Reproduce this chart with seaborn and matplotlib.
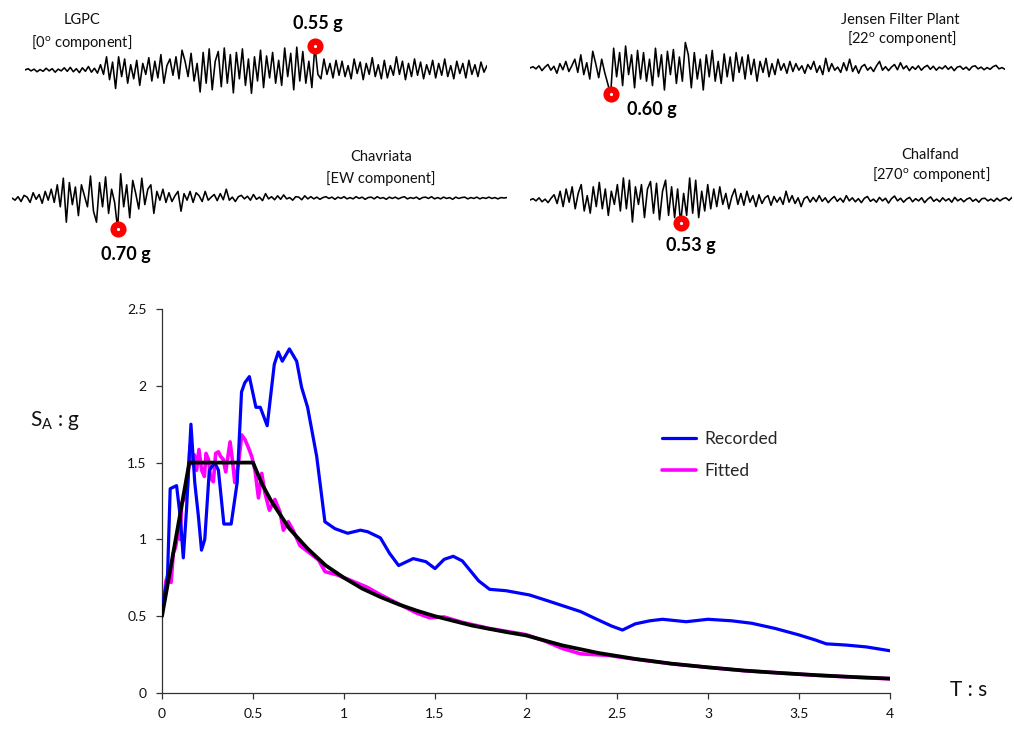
import numpy as np
import pandas as pd
import matplotlib
matplotlib.use("Agg")
import matplotlib.pyplot as plt
import seaborn as sns
from matplotlib.lines import Line2D
from matplotlib.ticker import FormatStrFormatter

# ---------------- data: response spectra ----------------
rec_T = [0.0, 0.03, 0.045, 0.08, 0.10, 0.117, 0.135, 0.159, 0.18, 0.20, 0.217, 0.235, 0.26, 0.29, 0.31,
         0.34, 0.38, 0.413, 0.437, 0.455, 0.48, 0.516, 0.54, 0.578, 0.617, 0.639, 0.661, 0.70, 0.74,
         0.767, 0.80, 0.85, 0.895, 0.95, 1.02, 1.09, 1.13, 1.20, 1.25, 1.30, 1.38, 1.45, 1.50, 1.55,
         1.60, 1.65, 1.74, 1.80, 1.89, 2.02, 2.12, 2.30, 2.38, 2.47, 2.53, 2.60, 2.68, 2.75, 2.88,
         3.00, 3.13, 3.24, 3.37, 3.50, 3.59, 3.65, 3.76, 3.87, 4.00]
rec_SA = [0.55, 0.75, 1.33, 1.35, 1.15, 0.88, 1.20, 1.75, 1.37, 1.15, 0.93, 1.00, 1.45, 1.50, 1.45,
          1.10, 1.10, 1.37, 1.96, 2.02, 2.06, 1.86, 1.86, 1.74, 2.14, 2.22, 2.16, 2.24, 2.16,
          1.99, 1.86, 1.54, 1.115, 1.07, 1.04, 1.06, 1.05, 1.01, 0.91, 0.83, 0.875, 0.855, 0.81, 0.87,
          0.89, 0.86, 0.73, 0.675, 0.666, 0.638, 0.60, 0.53, 0.485, 0.436, 0.41, 0.45, 0.47, 0.48, 0.464,
          0.48, 0.47, 0.454, 0.42, 0.378, 0.345, 0.32, 0.312, 0.30, 0.275]

fit_T = [0.0, 0.01, 0.022, 0.035, 0.05, 0.062, 0.075, 0.09, 0.10, 0.108, 0.126, 0.139, 0.154, 0.167,
         0.178, 0.19, 0.203, 0.218, 0.233, 0.242, 0.255, 0.267, 0.282, 0.295, 0.31, 0.322, 0.337,
         0.35, 0.374, 0.388, 0.40, 0.42, 0.438, 0.456, 0.474, 0.493, 0.511, 0.53, 0.548, 0.566, 0.59,
         0.62, 0.648, 0.667, 0.694, 0.72, 0.758, 0.813, 0.86, 0.896, 0.96, 1.033, 1.125, 1.2, 1.3, 1.4,
         1.47, 1.55, 1.65, 1.8, 2.0, 2.1, 2.2, 2.3, 2.45, 2.6, 2.8, 3.0, 3.2, 3.4, 3.6, 3.8, 4.0]
fit_SA = [0.55, 0.60, 0.73, 0.78, 0.72, 0.91, 0.95, 1.06, 1.00, 1.235, 1.27, 1.34, 1.61, 1.49,
          1.55, 1.45, 1.585, 1.45, 1.41, 1.56, 1.52, 1.40, 1.375, 1.56, 1.57, 1.54, 1.52,
          1.44, 1.635, 1.505, 1.37, 1.49, 1.68, 1.65, 1.60, 1.54, 1.45, 1.27, 1.43, 1.30, 1.19,
          1.26, 1.18, 1.06, 1.115, 1.06, 0.96, 0.91, 0.866, 0.79, 0.77, 0.735, 0.69, 0.64, 0.58, 0.52,
          0.49, 0.495, 0.46, 0.42, 0.38, 0.34, 0.29, 0.255, 0.245, 0.22, 0.19, 0.167, 0.145, 0.13, 0.115, 0.103, 0.092]

des_T = [0.0, 0.15, 0.5, 0.55, 0.6, 0.7, 0.8, 0.9, 1.0, 1.1, 1.2, 1.3, 1.4, 1.5, 1.6, 1.7, 1.8, 1.9,
         2.0, 2.2, 2.4, 2.6, 2.8, 3.0, 3.2, 3.4, 3.6, 3.8, 4.0]
des_SA = [0.5, 1.5, 1.5, 1.36, 1.25, 1.07, 0.94, 0.83, 0.75, 0.68, 0.625, 0.577, 0.536, 0.50, 0.47,
          0.44, 0.417, 0.395, 0.375, 0.31, 0.26, 0.222, 0.191, 0.167, 0.146, 0.130, 0.116, 0.104, 0.094]

x_ticks = [0, 0.5, 1, 1.5, 2, 2.5, 3, 3.5, 4]
y_ticks = [0, 0.5, 1, 1.5, 2, 2.5]
legend_labels = ["Recorded", "Fitted"]

# ---------------- data: accelerograms (g) ----------------
lgpc = [0.00, 0.03, -0.02, 0.02, -0.04, 0.01, -0.03, 0.04, -0.02, 0.03, -0.05, 0.02, -0.02, 0.05, -0.03,
        0.06, -0.04, 0.03, -0.06, 0.05, -0.03, 0.08, -0.05, 0.04, -0.07,
        0.12, -0.10, 0.30, -0.22, 0.18, -0.42, 0.30, -0.15, 0.25, -0.30, 0.12, -0.20, 0.22, -0.35, 0.15,
        -0.10, 0.28, -0.25, 0.20, -0.18, 0.35, -0.30, 0.10, 0.25, -0.12, 0.30, -0.20, 0.45, 0.20, -0.15,
        0.38, -0.25,
        0.15, -0.50, 0.40, -0.30, 0.48, -0.45, 0.20, 0.42, -0.38, 0.50, -0.30, 0.35, -0.52, 0.40, -0.20,
        0.48, -0.35, 0.25, -0.53, 0.30, -0.25, 0.45, -0.40, 0.32, -0.18, 0.40, -0.30, 0.22, -0.35, 0.50,
        -0.15, 0.38, -0.45, 0.52, -0.25, 0.42, -0.30, 0.20, -0.40, 0.55, -0.10,
        -0.20, 0.25, -0.10, 0.15, -0.18, 0.22, -0.12, 0.20, -0.15, 0.10, -0.20, 0.25, -0.08, 0.18, -0.22,
        0.15, -0.10, 0.28, -0.15, 0.12, -0.20, 0.22, -0.18, 0.10, -0.12, 0.30, -0.10, 0.20, -0.22, 0.15,
        -0.15, 0.25, -0.12, 0.18, -0.20, 0.12, -0.10, 0.22, -0.18, 0.15, -0.12, 0.25, -0.15, 0.10, -0.20,
        0.20, -0.08, 0.15, -0.18, 0.22, -0.10, 0.12, -0.15, 0.18, -0.05, 0.10]

jensen = [0.0, 0.03, -0.02, 0.05, -0.06, 0.02, 0.08, -0.05, 0.04, -0.12, 0.1, -0.04, 0.15, -0.08, 0.05,
          0.2, -0.1, 0.3, -0.15,
          0.12, -0.25, 0.38, 0.1, -0.22, 0.2, -0.1, -0.35,
          -0.60,
          0.45, -0.2, 0.35, -0.4, 0.5, -0.15, 0.3, -0.45, 0.4, -0.25, 0.35, -0.3, 0.2, -0.4, 0.45, -0.2,
          0.3, -0.5, 0.38, -0.15, 0.42, -0.35, 0.25, -0.3, 0.58, 0.3, -0.45, 0.35, -0.25, 0.2, -0.5, 0.3,
          -0.2, 0.4, -0.3, 0.15, -0.35, 0.32, -0.2, 0.25,
          -0.3, 0.35, -0.1, 0.25, -0.25, 0.3, -0.15, 0.2, -0.3, 0.15, -0.1, 0.22, -0.2, 0.1, -0.15, 0.2,
          -0.05, 0.1, -0.12, 0.15,
          -0.08, 0.1, -0.05, 0.05, -0.12, 0.08, -0.03, 0.15, -0.1, 0.05, -0.15, 0.22, -0.08, 0.1, -0.05,
          0.02, -0.1, 0.12, -0.06, 0.2, -0.08, 0.05, -0.12, 0.03, 0.08, -0.05, 0.02, -0.08, 0.05,
          0.15, -0.05, 0.03, -0.06, 0.02, 0.08, -0.04, 0.12, -0.02, 0.05, -0.06, 0.03, -0.03, 0.05, -0.05,
          0.02, 0.06, -0.03, 0.04, -0.05, 0.02, -0.02, 0.05, -0.03, 0.03, -0.06, 0.02, 0.04, -0.03, 0.02,
          -0.05, 0.03, 0.05, -0.02, 0.02, -0.04, 0.01, -0.03, 0.03, 0.06, -0.02, 0.01, -0.03]

chavriata = [0.0, -0.05, 0.03, -0.08, 0.06, 0.02, -0.1, 0.12, -0.03, 0.08, -0.12, 0.15, -0.05, 0.2,
             -0.1, 0.3, -0.2, 0.45, -0.55, 0.35, -0.15, 0.25, -0.4, 0.3, 0.05, -0.2, 0.5, -0.3, -0.55,
             0.35, -0.2, 0.48, -0.35, 0.2, -0.1,
             -0.70,
             0.55, -0.2, 0.3, -0.45, 0.4, 0.1, -0.25, 0.45, -0.15, 0.2, 0.3, -0.35, 0.15, -0.05, 0.2,
             -0.1, 0.12, -0.08, 0.05, 0.15,
             -0.3, 0.1, -0.05, 0.15, -0.1, 0.12, 0.05, -0.08, 0.15, -0.05, 0.02, 0.08, -0.06, 0.1, -0.04, 0.2,
             -0.05, 0.02, -0.08, 0.03, 0.06, -0.02, 0.04, -0.05, 0.08, -0.03, 0.02, -0.06, 0.1, -0.02,
             0.03, -0.04, 0.05, -0.03, 0.07, -0.02, 0.01, -0.05, 0.03, 0.02, -0.04, 0.05, -0.02,
             0.03, -0.02, 0.02, -0.03, 0.01, 0.03, -0.01, 0.02, -0.03, 0.02, -0.01, 0.03, -0.02, 0.01,
             -0.02, 0.03, -0.01, 0.02, -0.03, 0.01, 0.02, -0.02, 0.03, -0.01, 0.01, -0.03, 0.02, -0.01,
             0.02, -0.02, 0.01, 0.03, -0.02, 0.01, -0.01, 0.02, -0.03, 0.01, 0.02, -0.01, 0.03, -0.02,
             0.01, -0.02, 0.02, -0.01, 0.01, -0.03, 0.02, -0.01, 0.01, 0.02, -0.02, 0.01, -0.01, 0.02,
             -0.02, 0.01, -0.01, 0.02, -0.01, 0.01, -0.02, 0.01, 0.0, 0.01]

chalfand = [0.0, 0.03, -0.02, 0.05, -0.04, 0.02, -0.06, 0.04,
            0.12, -0.08, 0.2, -0.15, 0.25, -0.05, 0.3, -0.2, 0.15, 0.35, -0.25, 0.1, -0.3, 0.3, -0.15,
            0.4, -0.2, 0.25, -0.35, 0.2, -0.1, 0.35, -0.25, 0.5,
            -0.2, 0.45, -0.5, 0.3, -0.1, 0.35, -0.4, 0.25, 0.42, -0.3, 0.38, -0.45, 0.2, 0.45, -0.35,
            0.3, -0.4, 0.25,
            -0.53,
            0.15, -0.35, 0.5, -0.3, 0.45, -0.4, 0.2, -0.25, 0.35, -0.2,
            0.25, -0.15, 0.3, -0.1, 0.15, -0.2, 0.08, 0.25, -0.1, 0.15, -0.12, 0.2, -0.05, 0.1, -0.15,
            0.12, -0.08, 0.05, 0.1, -0.12, 0.08, -0.05, 0.06, -0.1, 0.2, -0.05, 0.1, -0.08, 0.05, -0.15,
            0.03, 0.08, -0.05,
            0.06, -0.04, 0.1, -0.03, 0.05, -0.06, 0.02, 0.08, -0.03, 0.04, -0.05, 0.1, -0.02, 0.05, -0.04,
            0.03, -0.06, 0.04, 0.08, -0.03, 0.02, -0.05, 0.06, -0.02, 0.04, -0.07, 0.03, 0.09, -0.02, 0.04,
            -0.05, 0.02, 0.06, -0.04, 0.03, -0.02, 0.05, -0.06, 0.02, 0.07, -0.03, 0.02, -0.04, 0.05, -0.02,
            0.03, -0.05, 0.06, -0.02, 0.03, -0.04, 0.02, 0.05, -0.03, 0.02, -0.05, 0.03, 0.04, -0.02, 0.02,
            -0.03, 0.04, -0.02, 0.03, 0.05, -0.01, 0.06]

station_names = ["LGPC", "Jensen Filter Plant", "Chavriata", "Chalfand"]
components = ["[0$^\\mathrm{o}$ component]", "[22$^\\mathrm{o}$ component]",
              "[EW component]", "[270$^\\mathrm{o}$ component]"]
pga_labels = ["0.55 g", "0.60 g", "0.70 g", "0.53 g"]

# ---------------- style ----------------
sns.set_theme(style="ticks")
FONT = "Lato"
plt.rcParams["font.family"] = [FONT, "DejaVu Sans"]
plt.rcParams["mathtext.fontset"] = "custom"
plt.rcParams["mathtext.rm"] = FONT
plt.rcParams["mathtext.it"] = FONT + ":italic"
plt.rcParams["mathtext.bf"] = FONT + ":bold"

W, H = 1014, 732
fig = plt.figure(figsize=(W / 100, H / 100), dpi=100)


def fx(px):
    return px / W


def fy(py):
    return 1 - py / H


# ---------------- accelerogram panels ----------------
# (left px, right px, baseline px)
panels = [(25, 487, 70), (530, 1005, 68), (12, 507, 198), (530, 1012, 200)]
traces = [lgpc, jensen, chavriata, chalfand]
half = 44  # px per g
for (l, r, base), tr in zip(panels, traces):
    ax_t = fig.add_axes([fx(l), fy(base + half), fx(r) - fx(l), half * 2 / H])
    n = len(tr)
    df = pd.DataFrame({"i": np.arange(n), "a": tr})
    sns.lineplot(data=df, x="i", y="a", ax=ax_t, color="black", lw=1.15)
    k = int(np.argmax(np.abs(df["a"].values)))
    ax_t.plot(df["i"].iloc[k], df["a"].iloc[k], "o", ms=7.0, mfc="white", mec="#ff0000",
              mew=4.6, zorder=5)
    ax_t.set_xlim(0, n - 1)
    ax_t.set_ylim(-1, 1)
    ax_t.axis("off")

label_kw = dict(ha="center", va="center", fontsize=10.5, color="#111111")
fig.text(fx(82), fy(20), station_names[0], **label_kw)
fig.text(fx(82), fy(43), components[0], **label_kw)
fig.text(fx(900), fy(20), station_names[1], **label_kw)
fig.text(fx(902), fy(39), components[1], **label_kw)
fig.text(fx(381), fy(157), station_names[2], **label_kw)
fig.text(fx(381), fy(179), components[2], **label_kw)
fig.text(fx(930), fy(155), station_names[3], **label_kw)
fig.text(fx(931), fy(175), components[3], **label_kw)

pga_kw = dict(ha="center", va="center", fontsize=13, fontweight="bold", color="black")
fig.text(fx(318), fy(23), pga_labels[0], **pga_kw)
fig.text(fx(652), fy(110), pga_labels[1], **pga_kw)
fig.text(fx(126), fy(254), pga_labels[2], **pga_kw)
fig.text(fx(691), fy(245), pga_labels[3], **pga_kw)

# ---------------- main spectrum chart ----------------
ax = fig.add_axes([fx(162), fy(693), fx(890) - fx(162), (693 - 309) / H])
rec = pd.DataFrame({"T": rec_T, "SA": rec_SA})
fit = pd.DataFrame({"T": fit_T, "SA": fit_SA})
des = pd.DataFrame({"T": des_T, "SA": des_SA})
sns.lineplot(data=fit, x="T", y="SA", ax=ax, color="#ff00ff", lw=2.6, sort=False, zorder=2)
sns.lineplot(data=rec, x="T", y="SA", ax=ax, color="#0000ff", lw=2.3, sort=False, zorder=3)
sns.lineplot(data=des, x="T", y="SA", ax=ax, color="black", lw=2.7, sort=False, zorder=4)

ax.set_xlim(0, 4)
ax.set_ylim(0, 2.5)
ax.set_xticks(x_ticks)
ax.set_yticks(y_ticks)
ax.xaxis.set_major_formatter(FormatStrFormatter("%g"))
ax.yaxis.set_major_formatter(FormatStrFormatter("%g"))
ax.set_xlabel("")
ax.set_ylabel("")
for s in ["top", "right"]:
    ax.spines[s].set_visible(False)
for s in ["left", "bottom"]:
    ax.spines[s].set_color("#333333")
    ax.spines[s].set_linewidth(0.9)
ax.tick_params(axis="both", direction="out", length=4, width=0.9, color="#333333",
               labelsize=10, labelcolor="#111111", pad=7)

handles = [Line2D([], [], color="#0000ff", lw=2.3), Line2D([], [], color="#ff00ff", lw=2.6)]
ax.legend(handles, legend_labels, loc="center left", bbox_to_anchor=(0.665, 0.62),
          frameon=False, fontsize=12.5, handlelength=2.0, handletextpad=0.45, labelspacing=0.9)

fig.text(fx(30), fy(421), "$\\mathrm{S_A}$ : g", ha="left", va="center", fontsize=15, color="#111111")
fig.text(fx(950), fy(690), "T : s", ha="left", va="center", fontsize=15, color="#111111")

fig.savefig("out.png", dpi=100)
